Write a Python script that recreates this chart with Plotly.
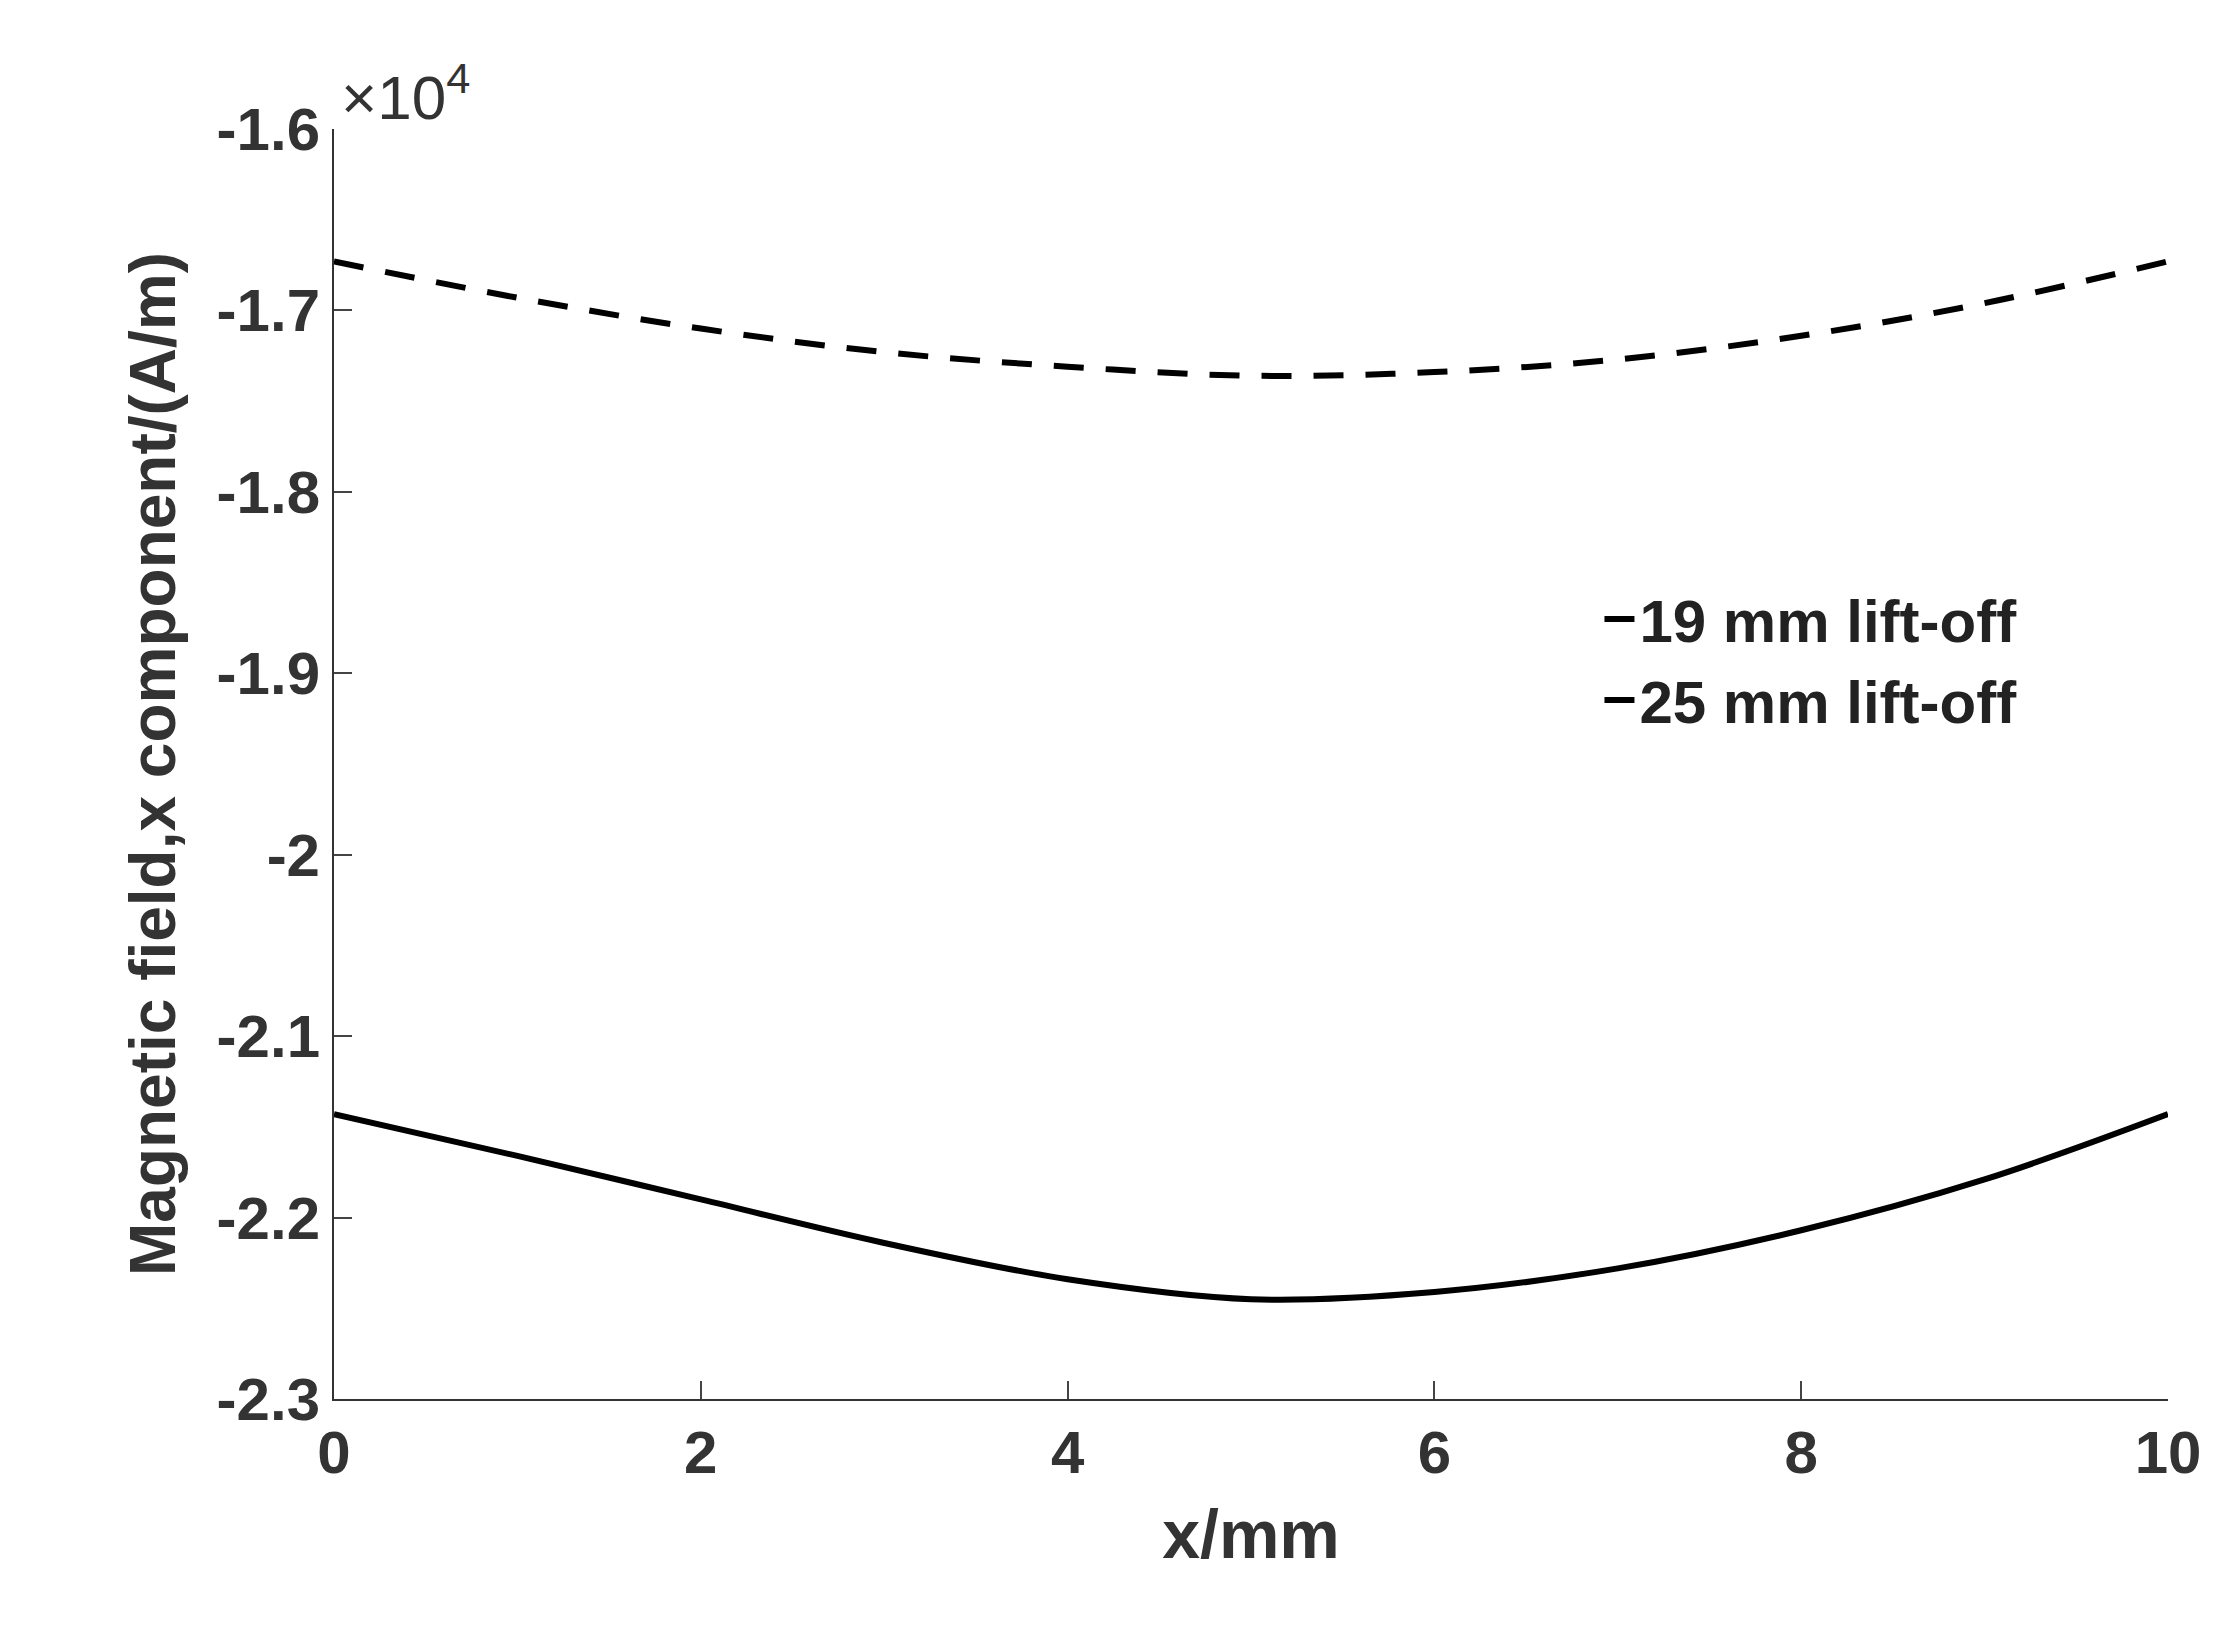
import plotly.graph_objects as go

x_mm = [0, 1, 2, 3, 4, 5, 6, 7, 8, 9, 10]
lift19 = [-2.143, -2.166, -2.190, -2.214, -2.234, -2.245, -2.241, -2.228, -2.207, -2.179, -2.143]
lift25 = [-1.673, -1.693, -1.710, -1.723, -1.731, -1.736, -1.734, -1.727, -1.714, -1.696, -1.673]
x_ticks = [0, 2, 4, 6, 8, 10]
y_ticks = [-2.3, -2.2, -2.1, -2.0, -1.9, -1.8, -1.7, -1.6]
y_text = ["-2.3", "-2.2", "-2.1", "-2", "-1.9", "-1.8", "-1.7", "-1.6"]

fig = go.Figure()
fig.add_trace(go.Scatter(x=x_mm, y=lift19, mode="lines", line=dict(color="black", width=6, shape="spline"),
                         name="<b>19 mm lift-off</b>"))
fig.add_trace(go.Scatter(x=x_mm, y=lift25, mode="lines", line=dict(color="black", width=6, dash="30px,22px", shape="spline"),
                         name="<b>25 mm lift-off</b>"))

tick_font = dict(family="Liberation Sans", size=60, color="#333")
fig.update_layout(
    width=2233, height=1641, plot_bgcolor="white", paper_bgcolor="white",
    margin=dict(l=326, r=73, t=121, b=250),
    legend=dict(x=0.69, y=0.65, xanchor="left", yanchor="top", bgcolor="rgba(0,0,0,0)",
                font=dict(family="Liberation Sans", size=60, color="#222"), tracegroupgap=10),
    xaxis=dict(range=[0, 10], tickvals=x_ticks, ticktext=[f"<b>{v}</b>" for v in x_ticks],
               ticks="inside", ticklen=18, tickwidth=2,
               showline=True, linecolor="#333", linewidth=2, showgrid=False, zeroline=False,
               tickfont=tick_font,
               title=dict(text="<b>x/mm</b>", font=dict(family="Liberation Sans", size=68, color="#333"), standoff=25)),
    yaxis=dict(range=[-2.3, -1.6], tickvals=y_ticks, ticktext=[f"<b>{t}</b>" for t in y_text],
               ticks="inside", ticklen=18, tickwidth=2,
               showline=True, linecolor="#333", linewidth=2, showgrid=False, zeroline=False,
               tickfont=tick_font,
               title=dict(text="<b>Magnetic field,x component/(A/m)</b>",
                          font=dict(family="Liberation Sans", size=64, color="#333"), standoff=20)),
)
fig.add_annotation(x=0, y=1.0, xref="paper", yref="paper", xanchor="left", yanchor="bottom",
                   text="×10<sup>4</sup>", showarrow=False, xshift=5, yshift=-5,
                   font=dict(family="Liberation Sans", size=62, color="#333"))
fig.write_html("out.html")
